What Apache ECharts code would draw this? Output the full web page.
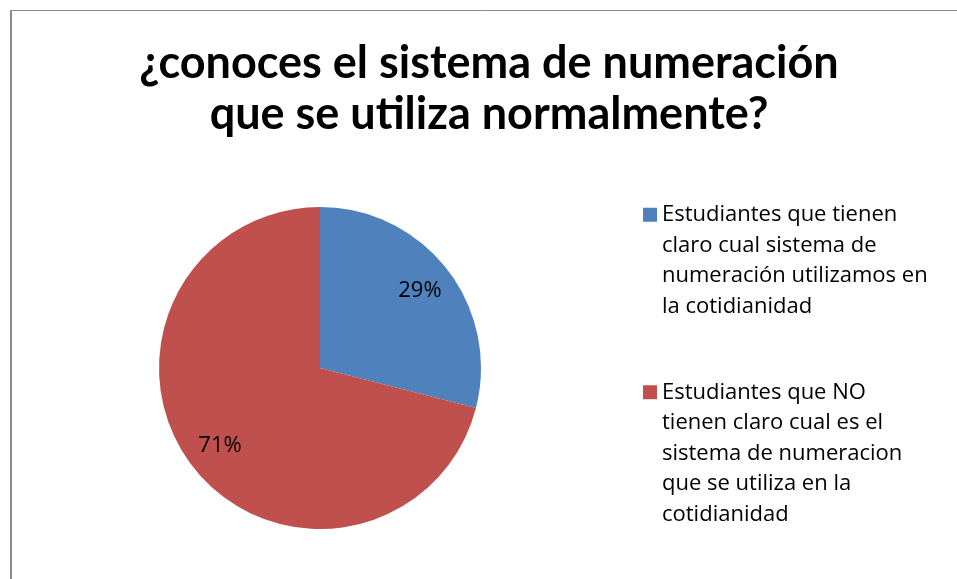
<!DOCTYPE html>
<html>
<head>
<meta charset="utf-8">
<script src="https://cdn.jsdelivr.net/npm/echarts@6/dist/echarts.min.js"></script>
<style>
  html, body { margin: 0; padding: 0; background: #fff; }
  #grafico { width: 957px; height: 579px; }
</style>
</head>
<body>
<div id="grafico"></div>
<script>
  // Datos de la encuesta
  const titulo = "¿conoces el sistema de numeración\nque se utiliza normalmente?";
  const categorias = [
    "Estudiantes que tienen\nclaro cual sistema de\nnumeración utilizamos en\nla cotidianidad",
    "Estudiantes que NO\ntienen claro cual es el\nsistema de numeracion\nque se utiliza en la\ncotidianidad"
  ];
  const porcentajes = [29, 71];
  const colores = ["#4F81BD", "#C0504D"];

  const datos = categorias.map((nombre, i) => ({
    name: nombre,
    value: porcentajes[i],
    itemStyle: { color: colores[i] }
  }));

  const fuenteTitulo = "Lato, 'Liberation Sans', sans-serif";
  const fuente = "'Open Sans', 'Noto Sans', sans-serif";
  const altoLinea = 30.5;

  // Una leyenda por categoría; líneas vacías delante para que el cuadro
  // quede a la altura de la primera línea
  function leyenda(i, top) {
    return {
      data: [categorias[i]],
      orient: "vertical",
      left: 643,
      top: top,
      padding: 0,
      itemWidth: 14,
      itemHeight: 14,
      icon: "rect",
      selectedMode: false,
      formatter: (nombre) => {
        const lineas = nombre.split("\n").length;
        return "\n".repeat(lineas - 1) + nombre;
      },
      textStyle: {
        fontFamily: fuente,
        fontSize: 22,
        color: "#000",
        lineHeight: altoLinea
      }
    };
  }

  const chart = echarts.init(document.getElementById("grafico"));

  chart.setOption({
    animation: false,
    title: {
      text: titulo,
      left: 489,
      top: 38,
      padding: 0,
      textAlign: "center",
      textStyle: {
        fontFamily: fuenteTitulo,
        fontSize: 45,
        fontWeight: "bold",
        color: "#000",
        lineHeight: 51
      }
    },
    legend: [leyenda(0, 108), leyenda(1, 255)],
    graphic: [
      { type: "line", silent: true, shape: { x1: 10, y1: 10.5, x2: 957, y2: 10.5 }, style: { stroke: "#8a8a8a", lineWidth: 1 } },
      { type: "line", silent: true, shape: { x1: 11, y1: 10, x2: 11, y2: 579 }, style: { stroke: "#8a8a8a", lineWidth: 2 } }
    ],
    series: [
      {
        type: "pie",
        center: [320, 368],
        radius: 161,
        startAngle: 90,
        silent: true,
        label: { show: false },
        labelLine: { show: false },
        data: datos
      },
      {
        // serie transparente solo para situar las etiquetas
        type: "pie",
        center: [320, 368],
        radius: [86, 161],
        startAngle: 90,
        silent: true,
        itemStyle: { color: "rgba(0,0,0,0)" },
        label: {
          show: true,
          position: "inside",
          formatter: "{c}%",
          fontFamily: fuente,
          fontSize: 22,
          color: "#000"
        },
        labelLine: { show: false },
        data: porcentajes.map((v, i) => ({ name: categorias[i], value: v }))
      }
    ]
  });
</script>
</body>
</html>
